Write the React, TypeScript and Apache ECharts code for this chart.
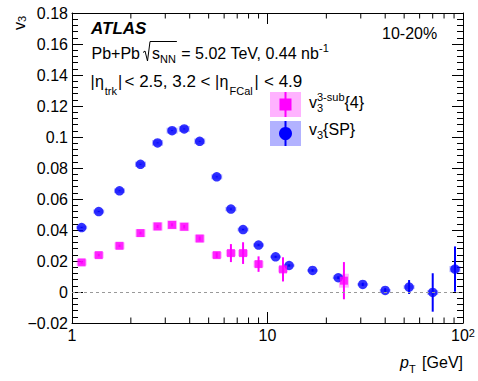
import React, { useEffect, useRef } from "react";
import * as echarts from "echarts";

// ---------- data ----------
const ptSP = [1.12, 1.37, 1.75, 2.24, 2.74, 3.25, 3.75, 4.5, 5.5, 6.5, 7.5, 9.0, 11.0, 12.9, 17.0, 23.0, 30.7, 40.0, 53.0, 70.0, 91.0];
const v3SP = [0.0416, 0.0519, 0.0653, 0.0824, 0.0962, 0.1041, 0.1052, 0.0972, 0.0743, 0.0535, 0.0403, 0.0303, 0.0227, 0.0171, 0.0139, 0.0092, 0.0049, 0.0010, 0.0032, -0.0003, 0.0148];
const statSP = [0.0003, 0.0003, 0.0003, 0.0003, 0.0003, 0.0003, 0.0003, 0.0003, 0.0003, 0.0004, 0.0004, 0.0005, 0.0006, 0.0007, 0.0008, 0.0009, 0.0011, 0.0015, 0.0045, 0.0124, 0.0146];
const systSP = [0.0012, 0.0013, 0.0015, 0.0017, 0.0018, 0.0019, 0.0019, 0.0018, 0.0016, 0.0014, 0.0012, 0.0011, 0.0009, 0.0008, 0.0008, 0.0008, 0.0008, 0.0009, 0.0012, 0.0015, 0.002];

const pt3sub = [1.12, 1.37, 1.75, 2.24, 2.74, 3.25, 3.75, 4.5, 5.5, 6.5, 7.5, 9.0, 12.0, 24.6];
const v33sub = [0.0191, 0.0238, 0.0298, 0.038, 0.0423, 0.0433, 0.0421, 0.0345, 0.0238, 0.0251, 0.0251, 0.018, 0.0146, 0.0073];
const stat3sub = [0.0008, 0.0008, 0.0008, 0.0009, 0.001, 0.001, 0.0011, 0.0013, 0.0018, 0.0058, 0.007, 0.005, 0.0078, 0.012];
const syst3sub = [0.002, 0.002, 0.0022, 0.0025, 0.0027, 0.0028, 0.0028, 0.0025, 0.002, 0.002, 0.002, 0.002, 0.002, 0.0045];

const xMinorTicks = [2, 3, 4, 5, 6, 7, 8, 9, 20, 30, 40, 50, 60, 70, 80, 90];
const xMin = 1;
const xMax = 100;
const yMin = -0.02;
const yMax = 0.18;
const yStep = 0.02;

const MAGENTA = "#ff00ff";
const BLUE = "#0000ff";
const FAMILY = "'Liberation Sans', Arial, Helvetica, sans-serif";

type Run = { t: string; size: number; dy?: number; dx?: number; ax?: number; italic?: boolean; bold?: boolean; noAdvance?: boolean };

function fontStr(r: Run) {
  return `${r.italic ? "italic " : ""}${r.bold ? "bold " : ""}${r.size}px ${FAMILY}`;
}

function layoutRuns(ctx: CanvasRenderingContext2D, x0: number, base: number, runs: Run[], align: "left" | "right" = "left") {
  const widths = runs.map((r) => {
    ctx.font = fontStr(r);
    return ctx.measureText(r.t).width;
  });
  let total = 0;
  runs.forEach((r, i) => {
    total += (r.dx || 0) + (r.noAdvance ? 0 : widths[i]);
  });
  let x = align === "right" ? x0 - total : x0;
  const els: any[] = [];
  const pos: number[][] = [];
  runs.forEach((r, i) => {
    if (r.ax !== undefined) x = r.ax;
    x += r.dx || 0;
    els.push({
      type: "text",
      x,
      y: base + (r.dy || 0) - 0.35 * r.size,
      silent: true,
      style: {
        text: r.t,
        font: fontStr(r),
        fill: "#000",
        textAlign: "left",
        textVerticalAlign: "middle",
        align: "left",
        verticalAlign: "middle",
      },
    });
    pos.push([x, x + widths[i]]);
    if (!r.noAdvance) x += widths[i];
  });
  return { els, pos, end: x };
}

function errSeries(name: string, xs: number[], ys: number[], es: number[], color: string) {
  return {
    type: "custom",
    name,
    silent: true,
    data: xs.map((x, i) => [x, ys[i], es[i]]),
    encode: { x: 0, y: 1 },
    renderItem: (_p: any, api: any) => {
      const x = api.value(0);
      const y = api.value(1);
      const e = api.value(2);
      const a = api.coord([x, y - e]);
      const b = api.coord([x, y + e]);
      return { type: "line", shape: { x1: a[0], y1: a[1], x2: b[0], y2: b[1] }, style: { stroke: color, lineWidth: 2 } };
    },
  };
}

function systSeries(name: string, xs: number[], ys: number[], ss: number[], fill: string, halfW: number) {
  return {
    type: "custom",
    name,
    silent: true,
    data: xs.map((x, i) => [x, ys[i], ss[i]]),
    encode: { x: 0, y: 1 },
    renderItem: (_p: any, api: any) => {
      const x = api.value(0);
      const y = api.value(1);
      const s = api.value(2);
      const t = api.coord([x, y + s]);
      const b = api.coord([x, y - s]);
      return { type: "rect", shape: { x: t[0] - halfW, y: t[1], width: 2 * halfW, height: b[1] - t[1] }, style: { fill } };
    },
  };
}

export default function App() {
  const ref = useRef<HTMLDivElement>(null);
  useEffect(() => {
    const chart = echarts.init(ref.current!, null, { renderer: "svg" });
    const ctx = document.createElement("canvas").getContext("2d")!;

    const axisCommon = {
      axisLine: { show: true, onZero: false, lineStyle: { color: "#000", width: 1 } },
      splitLine: { show: false },
    };

    // header texts
    const atlas = layoutRuns(ctx, 91, 34, [{ t: "ATLAS", size: 17, bold: true, italic: true }]);
    const cent = layoutRuns(ctx, 382, 39, [{ t: "10-20%", size: 16 }]);
    const l1a = layoutRuns(ctx, 91.5, 59.5, [{ t: "Pb+Pb", size: 16 }]);
    const l1b = layoutRuns(ctx, 152, 59.5, [
      { t: "s", size: 16 },
      { t: "NN", size: 11, dy: 3 },
      { t: " = 5.02 TeV, 0.44 nb", size: 16, dx: 1 },
      { t: "-1", size: 11, dy: -8 },
    ]);
    const nnEnd = l1b.pos[1][1];
    const l2 = layoutRuns(ctx, 91, 87.5, [
      { t: "|", size: 16, ax: 90.5 },
      { t: "η", size: 16, ax: 95 },
      { t: "trk", size: 11, dy: 7.5, ax: 104.8 },
      { t: "|", size: 16, ax: 118 },
      { t: "< 2.5, 3.2 <", size: 17, ax: 124.5 },
      { t: "|", size: 16, ax: 215 },
      { t: "η", size: 16, ax: 219.5 },
      { t: "FCal", size: 11, dy: 7, ax: 229.5 },
      { t: "|", size: 16, ax: 254.5 },
      { t: "< 4.9", size: 17, ax: 264 },
    ]);

    // legend
    const leg1 = layoutRuns(ctx, 309, 108, [
      { t: "v", size: 16 },
      { t: "3", size: 11, dy: 3.5, noAdvance: true },
      { t: "3-sub", size: 11, dy: -7 },
      { t: "{4}", size: 16 },
    ]);
    const leg2 = layoutRuns(ctx, 309, 135, [
      { t: "v", size: 16 },
      { t: "3", size: 11, dy: 3.5 },
      { t: "{SP}", size: 16 },
    ]);

    // axis titles
    const xTitle = layoutRuns(ctx, 463, 368, [
      { t: "p", size: 16, italic: true },
      { t: "T", size: 11, dy: 5 },
      { t: " [GeV]", size: 16, dx: 2 },
    ], "right");
    const yTitle = layoutRuns(ctx, 0, 0, [
      { t: "v", size: 16 },
      { t: "3", size: 11, dy: 1 },
    ]);

    const graphic: any[] = [
      ...atlas.els,
      ...cent.els,
      ...l1a.els,
      ...l1b.els,
      {
        type: "polyline",
        silent: true,
        shape: { points: [[143, 52.5], [145, 51], [147.5, 61], [150, 41.5], [nnEnd + 1, 41.5]] },
        style: { stroke: "#000", lineWidth: 1, fill: null },
      },
      ...l2.els,
      // legend entries
      { type: "rect", silent: true, shape: { x: 270, y: 92, width: 31, height: 25 }, style: { fill: "rgba(255,0,255,0.3)" } },
      { type: "line", silent: true, shape: { x1: 285.5, y1: 92, x2: 285.5, y2: 117 }, style: { stroke: MAGENTA, lineWidth: 2 } },
      { type: "rect", silent: true, shape: { x: 279.5, y: 98.5, width: 12, height: 12 }, style: { fill: MAGENTA } },
      { type: "rect", silent: true, shape: { x: 270, y: 121, width: 31, height: 25 }, style: { fill: "rgba(0,0,255,0.3)" } },
      { type: "line", silent: true, shape: { x1: 285.5, y1: 121, x2: 285.5, y2: 146 }, style: { stroke: BLUE, lineWidth: 2 } },
      { type: "circle", silent: true, shape: { cx: 285.5, cy: 133.5, r: 6.5 }, style: { fill: BLUE } },
      ...leg1.els,
      ...leg2.els,
      ...xTitle.els,
      { type: "group", x: 25, y: 30, rotation: Math.PI / 2, silent: true, children: yTitle.els },
    ];

    const option: any = {
      animation: false,
      backgroundColor: "#fff",
      textStyle: { fontFamily: FAMILY },
      grid: { left: 72, right: 15, top: 13, bottom: 58 },
      xAxis: [
        {
          type: "log",
          logBase: 10,
          min: xMin,
          max: xMax,
          position: "bottom",
          ...axisCommon,
          axisTick: { show: true, inside: true, length: 11, lineStyle: { color: "#000" } },
          minorTick: { show: false },
          axisLabel: {
            show: true,
            margin: 4,
            color: "#000",
            fontFamily: FAMILY,
            showMinLabel: true,
            showMaxLabel: true,
            formatter: (v: number) => {
              const r = Math.round(v);
              return r === 100 ? "{n|10}{s|2}" : "{n|" + r + "}";
            },
            rich: {
              n: { fontSize: 16, color: "#000", fontFamily: FAMILY },
              s: { fontSize: 11, color: "#000", fontFamily: FAMILY, verticalAlign: "top", lineHeight: 11 },
            },
          },
        },
        {
          type: "log",
          logBase: 10,
          min: xMin,
          max: xMax,
          position: "top",
          ...axisCommon,
          axisTick: { show: true, inside: true, length: 11, lineStyle: { color: "#000" } },
          minorTick: { show: false },
          axisLabel: { show: false },
        },
      ],
      yAxis: [
        {
          type: "value",
          min: yMin,
          max: yMax,
          interval: yStep,
          position: "left",
          ...axisCommon,
          axisTick: { show: true, inside: true, length: 11, lineStyle: { color: "#000" } },
          minorTick: { show: true, splitNumber: 5, length: 6, lineStyle: { color: "#000" } },
          axisLabel: {
            show: true,
            margin: 4,
            fontSize: 16,
            color: "#000",
            fontFamily: FAMILY,
            showMinLabel: true,
            showMaxLabel: true,
            formatter: (v: number) => {
              const s = String(Number(Math.abs(v).toFixed(2)));
              return v < -1e-9 ? "\u2212" + s : s;
            },
          },
        },
        {
          type: "value",
          min: yMin,
          max: yMax,
          interval: yStep,
          position: "right",
          ...axisCommon,
          axisTick: { show: true, inside: true, length: 11, lineStyle: { color: "#000" } },
          minorTick: { show: true, splitNumber: 5, length: 6, lineStyle: { color: "#000" } },
          axisLabel: { show: false },
        },
      ],
      series: [
        {
          type: "custom",
          name: "xMinor",
          silent: true,
          data: xMinorTicks.map((v) => [v, 0]),
          encode: { x: 0, y: 1 },
          renderItem: (params: any, api: any) => {
            const cs = params.coordSys;
            const x = api.coord([api.value(0), 0])[0];
            const b = cs.y + cs.height;
            const t = cs.y;
            return {
              type: "group",
              children: [
                { type: "line", shape: { x1: x, y1: b, x2: x, y2: b - 5.5 }, style: { stroke: "#000", lineWidth: 1 } },
                { type: "line", shape: { x1: x, y1: t, x2: x, y2: t + 5.5 }, style: { stroke: "#000", lineWidth: 1 } },
              ],
            };
          },
          markLine: {
            silent: true,
            symbol: ["none", "none"],
            label: { show: false },
            lineStyle: { color: "#999", type: [3, 3], width: 1 },
            data: [{ yAxis: 0 }],
          },
        },
        systSeries("systSP", ptSP, v3SP, systSP, "rgba(0,0,255,0.3)", 5.5),
        errSeries("statSP", ptSP, v3SP, statSP, BLUE),
        {
          type: "scatter",
          name: "v3{SP}",
          data: ptSP.map((x, i) => [x, v3SP[i]]),
          symbol: "circle",
          symbolSize: 9.5,
          itemStyle: { color: BLUE },
          silent: true,
        },
        systSeries("syst3sub", pt3sub, v33sub, syst3sub, "rgba(255,0,255,0.3)", 5),
        errSeries("stat3sub", pt3sub, v33sub, stat3sub, MAGENTA),
        {
          type: "scatter",
          name: "v3{4}",
          data: pt3sub.map((x, i) => [x, v33sub[i]]),
          symbol: "rect",
          symbolSize: 8,
          itemStyle: { color: MAGENTA },
          silent: true,
        },
      ],
      graphic,
    };
    chart.setOption(option);
    return () => chart.dispose();
  }, []);
  return <div ref={ref} style={{ position: "fixed", left: 0, top: 0, width: 478, height: 381, background: "#fff" }} />;
}
